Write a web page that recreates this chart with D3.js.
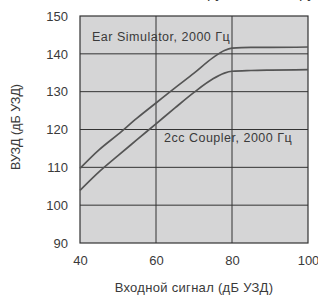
<!DOCTYPE html>
<html>
<head>
<meta charset="utf-8">
<script src="https://cdn.jsdelivr.net/npm/d3@7"></script>
<style>
  body { margin: 0; background: #fff; }
  text { font-family: "Liberation Sans", Arial, sans-serif; fill: #3a3a3a; }
</style>
</head>
<body>
<div id="chart"></div>
<script>
// Input level (dB SPL)
const inputLevels = [40, 45, 50, 55, 60, 65, 70, 75, 78, 80, 85, 90, 100];
// Output SPL, Ear Simulator 2000 Hz
const earSimulator = [109.7, 114.6, 118.7, 123.0, 127.0, 131.0, 134.9, 139.0, 140.9, 141.5, 141.7, 141.7, 141.8];
// Output SPL, 2cc coupler 2000 Hz
const coupler2cc = [103.9, 108.8, 113.1, 117.3, 121.5, 125.7, 129.8, 133.4, 134.9, 135.4, 135.6, 135.7, 135.8];

const xTicks = [40, 60, 80, 100];
const yTicks = [90, 100, 110, 120, 130, 140, 150];

const width = 318, height = 295;
const margin = {top: 16, right: 10, bottom: 52, left: 80};

const svg = d3.select('#chart').append('svg')
    .attr('width', width)
    .attr('height', height);

const scaleX = d3.scaleLinear().domain([40, 100]).range([margin.left, width - margin.right]);
const scaleY = d3.scaleLinear().domain([90, 150]).range([height - margin.bottom, margin.top]);

// Plot background
svg.append('rect')
    .attr('x', scaleX(40))
    .attr('y', scaleY(150))
    .attr('width', scaleX(100) - scaleX(40))
    .attr('height', scaleY(90) - scaleY(150))
    .style('fill', '#d5d5d6')
    .style('stroke', '#333')
    .style('stroke-width', 1.2);

// Grid lines
svg.append('g').selectAll('line')
    .data(yTicks.slice(1, -1))
    .join('line')
    .attr('x1', scaleX(40)).attr('x2', scaleX(100))
    .attr('y1', d => scaleY(d)).attr('y2', d => scaleY(d))
    .style('stroke', '#333').style('stroke-width', 1);

svg.append('g').selectAll('line')
    .data(xTicks.slice(1, -1))
    .join('line')
    .attr('x1', d => scaleX(d)).attr('x2', d => scaleX(d))
    .attr('y1', scaleY(150)).attr('y2', scaleY(90))
    .style('stroke', '#333').style('stroke-width', 1);

// Curves
const line = d3.line()
    .x(d => scaleX(d[0]))
    .y(d => scaleY(d[1]))
    .curve(d3.curveMonotoneX);

[earSimulator, coupler2cc].forEach(series => {
    svg.append('path')
        .datum(inputLevels.map((x, i) => [x, series[i]]))
        .attr('d', line)
        .style('fill', 'none')
        .style('stroke', '#555')
        .style('stroke-width', 1.7);
});

// Axes (labels only)
const xAxis = svg.append('g')
    .attr('transform', 'translate(0,' + (height - margin.bottom) + ')')
    .call(d3.axisBottom(scaleX).tickValues(xTicks).tickSize(0).tickPadding(13));
xAxis.select('.domain').remove();
xAxis.selectAll('text').style('font-size', '13px').style('font-family', null).attr('fill', null);

const yAxis = svg.append('g')
    .attr('transform', 'translate(' + margin.left + ',0)')
    .call(d3.axisLeft(scaleY).tickValues(yTicks).tickSize(0).tickPadding(12));
yAxis.select('.domain').remove();
yAxis.selectAll('text').style('font-size', '13px').style('font-family', null).attr('fill', null);

// Series labels
svg.append('text')
    .attr('x', 92).attr('y', 41)
    .style('font-size', '12.5px')
    .style('letter-spacing', '0.5px')
    .text('Ear Simulator, 2000 Гц');

svg.append('text')
    .attr('x', 164).attr('y', 142)
    .style('font-size', '12.5px')
    .style('letter-spacing', '0.5px')
    .text('2cc Coupler, 2000 Гц');

// Axis titles
svg.append('text')
    .attr('x', 194)
    .attr('y', 292)
    .attr('text-anchor', 'middle')
    .style('font-size', '13px')
    .style('letter-spacing', '0.3px')
    .text('Входной сигнал (дБ УЗД)');

svg.append('text')
    .attr('transform', 'translate(20,127) rotate(-90)')
    .attr('text-anchor', 'middle')
    .style('font-size', '12.5px')
    .text('ВУЗД (дБ УЗД)');

// Clipped heading fragments at the very top
svg.append('text').attr('x', 207).attr('y', -2).style('font-size', '15px').text('ру');
svg.append('text').attr('x', 299).attr('y', -2).style('font-size', '15px').text('ру');
</script>
</body>
</html>
